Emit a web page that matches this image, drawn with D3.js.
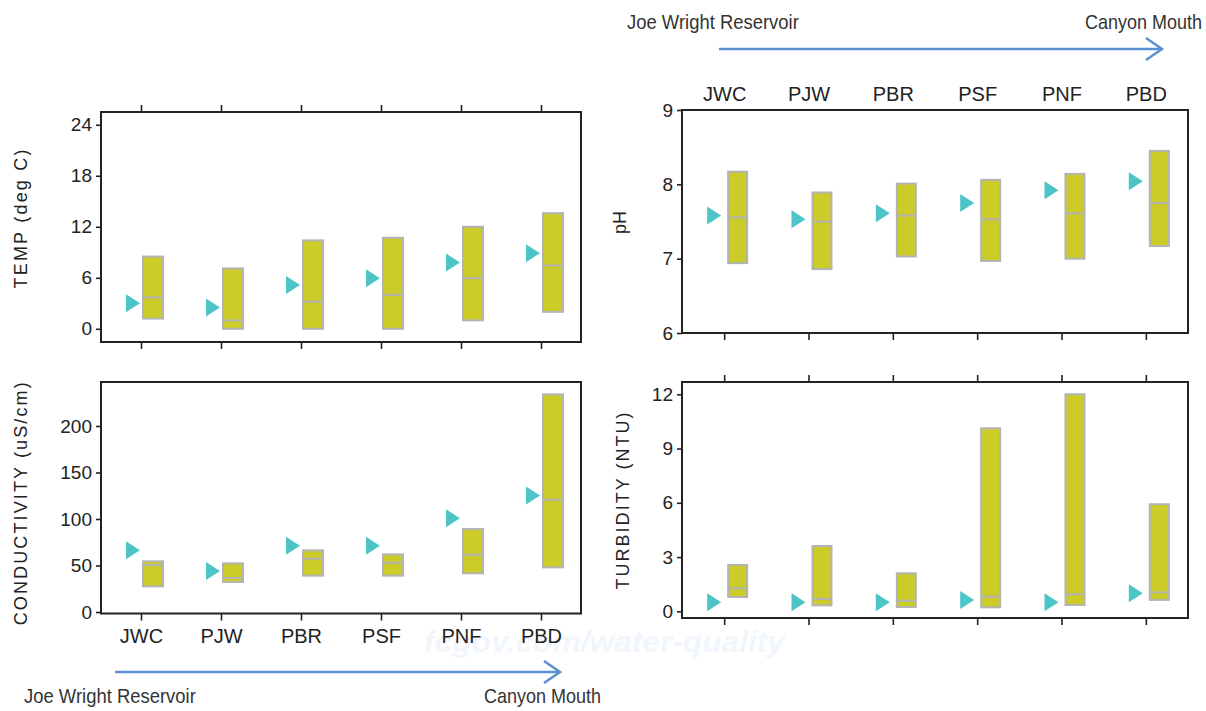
<!DOCTYPE html>
<html>
<head>
<meta charset="utf-8">
<script src="https://cdn.jsdelivr.net/npm/d3@7"></script>
<style>
  body { margin: 0; background: #fff; }
  svg { display: block; font-family: "Liberation Sans", Arial, sans-serif; }
</style>
</head>
<body>
<div id="chart"></div>
<script>
// sampling sites, upstream -> downstream
var sites = ["JWC", "PJW", "PBR", "PSF", "PNF", "PBD"];

// TEMP (deg C): historical range, median, current value (triangle)
var tempMin = [1.2, 0, 0, 0, 1.0, 2.0];
var tempMax = [8.5, 7.1, 10.4, 10.7, 12.0, 13.6];
var tempMed = [3.7, 1.0, 3.2, 4.0, 5.95, 7.45];
var tempNow = [3.0, 2.5, 5.15, 5.95, 7.8, 8.9];
var tempTicks = [0, 6, 12, 18, 24];

// pH
var phMin = [6.94, 6.86, 7.03, 6.97, 7.0, 7.17];
var phMax = [8.17, 7.89, 8.01, 8.06, 8.14, 8.45];
var phMed = [7.555, 7.5, 7.58, 7.53, 7.61, 7.75];
var phNow = [7.58, 7.53, 7.61, 7.75, 7.92, 8.04];
var phTicks = [6, 7, 8, 9];

// CONDUCTIVITY (uS/cm)
var condMin = [27.6, 32.3, 39.1, 39.1, 41.6, 48];
var condMax = [54.5, 52.3, 66.3, 62, 89.2, 234];
var condMed = [50.5, 36.6, 57.3, 53, 61.6, 120.8];
var condNow = [66.3, 44.1, 71.3, 71.3, 100.7, 125.4];
var condTicks = [0, 50, 100, 150, 200];

// TURBIDITY (NTU)
var turbMin = [0.79, 0.33, 0.24, 0.22, 0.35, 0.63];
var turbMax = [2.56, 3.61, 2.1, 10.12, 12.0, 5.92];
var turbMed = [1.27, 0.68, 0.59, 0.81, 0.94, 1.05];
var turbNow = [0.5, 0.5, 0.5, 0.63, 0.5, 1.0];
var turbTicks = [0, 3, 6, 9, 12];

var w = 1206, h = 711;
var boxFill = "#cccc29", boxStroke = "#b3b3b3", triColor = "#4cc4c8";
var arrowColor = "#5a8fd2", ink = "#222";

var svg = d3.select("#chart").append("svg").attr("width", w).attr("height", h);

// faint watermark behind everything
svg.append("text")
    .attr("x", 424).attr("y", 652)
    .attr("font-size", "29px").attr("font-weight", "bold").attr("font-style", "italic")
    .attr("fill", "#f1f6fc")
    .attr("textLength", 361).attr("lengthAdjust", "spacingAndGlyphs")
    .text("fcgov.com/water-quality");

function panel(p) {
    var x = d3.scalePoint().domain(sites).range([p.x0, p.x1]).padding(0.5);
    var y = d3.scaleLinear().domain(p.domain).range([p.y1, p.y0]);
    var g = svg.append("g");

    var rows = sites.map(function (s, i) {
        return {site: s, min: p.min[i], max: p.max[i], med: p.med[i], now: p.now[i]};
    });

    // category ticks
    if (p.topTicks) {
        var ta = d3.axisTop(x).tickSize(7).tickFormat("");
        g.append("g").attr("transform", "translate(0," + p.y0 + ")").call(ta);
    }
    if (p.topLabels) {
        var tl = d3.axisTop(x).tickSize(0).tickPadding(9);
        g.append("g").attr("transform", "translate(0," + p.y0 + ")").call(tl)
            .attr("font-size", "20px");
    }
    if (p.bottomTicks) {
        var ba = d3.axisBottom(x).tickSize(7).tickPadding(8);
        if (!p.bottomLabels) ba.tickFormat("");
        g.append("g").attr("transform", "translate(0," + p.y1 + ")").call(ba)
            .attr("font-size", "20px");
    }

    // value axis
    var ya = d3.axisLeft(y).tickValues(p.ticks).tickSize(5).tickPadding(4).tickFormat(d3.format("d"));
    g.append("g").attr("transform", "translate(" + p.x0 + ",0)").call(ya)
        .attr("font-size", "19px");

    g.selectAll(".domain").remove();
    g.selectAll(".tick line").attr("stroke", ink).attr("stroke-width", 1.6);
    g.selectAll(".tick text").attr("fill", ink).attr("font-family", "Liberation Sans, Arial, sans-serif");

    // boxes
    var bars = g.selectAll("g.site").data(rows).enter().append("g").attr("class", "site");
    bars.append("rect")
        .attr("x", function (d) { return x(d.site) + p.boxOff; })
        .attr("y", function (d) { return y(d.max); })
        .attr("width", p.boxW)
        .attr("height", function (d) { return y(d.min) - y(d.max); })
        .attr("fill", boxFill)
        .attr("stroke", boxStroke)
        .attr("stroke-width", 2);
    bars.append("line")
        .attr("x1", function (d) { return x(d.site) + p.boxOff; })
        .attr("x2", function (d) { return x(d.site) + p.boxOff + p.boxW; })
        .attr("y1", function (d) { return y(d.med); })
        .attr("y2", function (d) { return y(d.med); })
        .attr("stroke", boxStroke)
        .attr("stroke-width", 2);
    // current value triangles
    bars.append("path")
        .attr("d", function (d) {
            var tx = x(d.site) + p.triOff, ty = y(d.now);
            return "M" + (tx - 14) + "," + (ty - 9) + "L" + tx + "," + ty + "L" + (tx - 14) + "," + (ty + 9) + "Z";
        })
        .attr("fill", triColor);

    // frame
    g.append("rect")
        .attr("x", p.x0).attr("y", p.y0)
        .attr("width", p.x1 - p.x0).attr("height", p.y1 - p.y0)
        .attr("fill", "none").attr("stroke", ink).attr("stroke-width", 2);

    // axis title
    var t = g.append("text")
        .attr("transform", "translate(" + p.titleX + "," + ((p.y0 + p.y1) / 2 - p.titleShift) + ") rotate(-90)")
        .attr("text-anchor", "middle")
        .attr("font-size", "18px")
        .attr("fill", ink)
        .text(p.title);
    if (p.titleLen) t.attr("textLength", p.titleLen).attr("lengthAdjust", "spacing");
}

panel({x0: 101, x1: 581, y0: 112, y1: 342, domain: [-1.55, 25.5], ticks: tempTicks,
    min: tempMin, max: tempMax, med: tempMed, now: tempNow,
    topTicks: true, bottomTicks: true, boxOff: 2, boxW: 20, triOff: -1,
    title: "TEMP (deg C)", titleX: 27, titleShift: 8, titleLen: 139});

panel({x0: 682, x1: 1188, y0: 110, y1: 333, domain: [6, 9], ticks: phTicks,
    min: phMin, max: phMax, med: phMed, now: phNow,
    topLabels: true, bottomTicks: true, boxOff: 4, boxW: 19, triOff: -3,
    title: "pH", titleX: 626, titleShift: -1});

panel({x0: 101, x1: 581, y0: 382, y1: 613.5, domain: [-1.6, 247.3], ticks: condTicks,
    min: condMin, max: condMax, med: condMed, now: condNow,
    bottomTicks: true, bottomLabels: true, boxOff: 2, boxW: 20, triOff: -1,
    title: "CONDUCTIVITY (uS/cm)", titleX: 27, titleShift: -6, titleLen: 243});

panel({x0: 682, x1: 1188, y0: 382, y1: 618, domain: [-0.37, 12.68], ticks: turbTicks,
    min: turbMin, max: turbMax, med: turbMed, now: turbNow,
    topTicks: true, bottomTicks: true, boxOff: 4, boxW: 19, triOff: -3,
    title: "TURBIDITY (NTU)", titleX: 629, titleShift: -1, titleLen: 177});

// condensed label: squeeze horizontally to the wanted width
function narrowText(str, x, y, width, anchorEnd) {
    var t = svg.append("text")
        .attr("font-family", "Liberation Sans Narrow, Arial Narrow, sans-serif")
        .attr("font-size", "21px").attr("fill", "#333")
        .attr("text-anchor", anchorEnd ? "end" : "start")
        .text(str);
    var k = width / t.node().getComputedTextLength();
    t.attr("transform", "translate(" + x + "," + y + ") scale(" + k + ",1)");
}

// flow direction arrows
function flowArrow(x1, x2, yy, labelY, leftX, rightX) {
    svg.append("line").attr("x1", x1).attr("x2", x2).attr("y1", yy).attr("y2", yy)
        .attr("stroke", arrowColor).attr("stroke-width", 2.5);
    svg.append("path")
        .attr("d", "M" + (x2 - 16) + "," + (yy - 11) + "L" + x2 + "," + yy + "L" + (x2 - 16) + "," + (yy + 11))
        .attr("fill", "none").attr("stroke", arrowColor).attr("stroke-width", 2.5);
    narrowText("Joe Wright Reservoir", leftX, labelY, 172, false);
    narrowText("Canyon Mouth", rightX, labelY, 117, true);
}

flowArrow(719, 1162, 49, 29, 627, 1202);
flowArrow(115, 560, 672, 703, 24, 601);
</script>
</body>
</html>
